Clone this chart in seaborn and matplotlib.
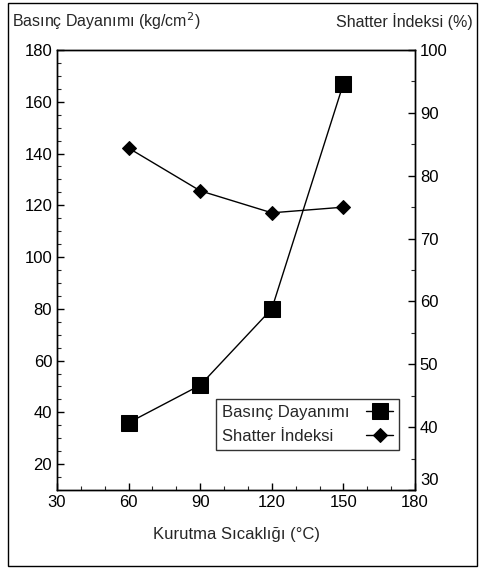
import matplotlib
matplotlib.use('Agg')
from matplotlib import pyplot as plt, ticker
from matplotlib.patches import Rectangle
from matplotlib.transforms import ScaledTranslation
import seaborn as sns
import pandas as pd

# values
temperature = [60, 90, 120, 150]
basinc_dayanimi = [36, 50.5, 80, 167]
shatter_indeksi = [84.4, 77.6, 74.1, 75.0]

sns.set_style('ticks')
plt.rcParams['font.family'] = ['Liberation Sans Narrow', 'Liberation Sans', 'DejaVu Sans']

df = pd.DataFrame({'T': temperature, 'B': basinc_dayanimi, 'S': shatter_indeksi})

fig = plt.figure(figsize=(4.85, 5.69), dpi=100)
ax = fig.add_axes([0.1175, 0.1388, 0.7382, 0.7733])
ax2 = ax.twinx()

sns.lineplot(data=df, x='T', y='B', ax=ax, color='black', lw=1,
             marker='s', markersize=11, markeredgecolor='black',
             label='Basınç Dayanımı', legend=False)
sns.lineplot(data=df, x='T', y='S', ax=ax2, color='black', lw=1,
             marker='D', markersize=7, markeredgecolor='black',
             label='Shatter İndeksi', legend=False)

ax.set_xlim(30, 180)
ax.set_ylim(10, 180)
ax2.set_ylim(30, 100)
ax.xaxis.set_major_locator(ticker.MultipleLocator(30))
ax.xaxis.set_minor_locator(ticker.MultipleLocator(10))
ax.yaxis.set_major_locator(ticker.MultipleLocator(20))
ax.yaxis.set_minor_locator(ticker.MultipleLocator(5))
ax2.yaxis.set_major_locator(ticker.MultipleLocator(10))
ax2.yaxis.set_minor_locator(ticker.MultipleLocator(5))

for a in (ax, ax2):
    a.tick_params(which='major', direction='in', length=5, width=1, labelsize=12, colors='black')
    a.tick_params(which='minor', direction='in', length=3, width=0.8)
    for s in a.spines.values():
        s.set_visible(True)
        s.set_linewidth(1)
        s.set_color('black')
ax.tick_params(axis='x', which='both', top=False)

ax.set_xlabel('Kurutma Sıcaklığı (°C)', fontsize=12, labelpad=12)
ax.set_ylabel('')
ax2.set_ylabel('')
fig.text(0.025, 0.962, 'Basınç Dayanımı (kg/cm$^2$)', fontsize=11.5, ha='left', va='center')
fig.text(0.975, 0.962, 'Shatter İndeksi (%)', fontsize=11.5, ha='right', va='center')

h1, l1 = ax.get_legend_handles_labels()
h2, l2 = ax2.get_legend_handles_labels()
leg = ax2.legend(h1 + h2, l1 + l2, loc='lower right', bbox_to_anchor=(0.955, 0.091),
                 borderaxespad=0, markerfirst=False, fontsize=12, frameon=True,
                 fancybox=False, edgecolor='black', handlelength=1.6,
                 borderpad=0.35, labelspacing=0.55, handletextpad=1.0)
leg.get_frame().set_linewidth(1)

# thin frame round the whole figure
fig.patches.append(Rectangle((0.017, 0.006), 0.966, 0.988, transform=fig.transFigure,
                             fill=False, edgecolor='black', lw=1))

fig.canvas.draw()
# left-align legend text while keeping the markers on the right
renderer = fig.canvas.get_renderer()
widths = [t.get_window_extent(renderer).width / (fig.dpi / 72) for t in leg.get_texts()]
rows = [r for col in leg._legend_handle_box.get_children() for r in col.get_children()]
for row, w in zip(rows, widths):
    row.sep = row.sep + (max(widths) - w)

# lift the lowest right tick label off the x labels, as in the reference
for lab in ax2.get_yticklabels():
    if lab.get_text() == '30':
        lab.set_transform(lab.get_transform() + ScaledTranslation(0, 8 / 72, fig.dpi_scale_trans))

fig.savefig('out.png', dpi=100)
